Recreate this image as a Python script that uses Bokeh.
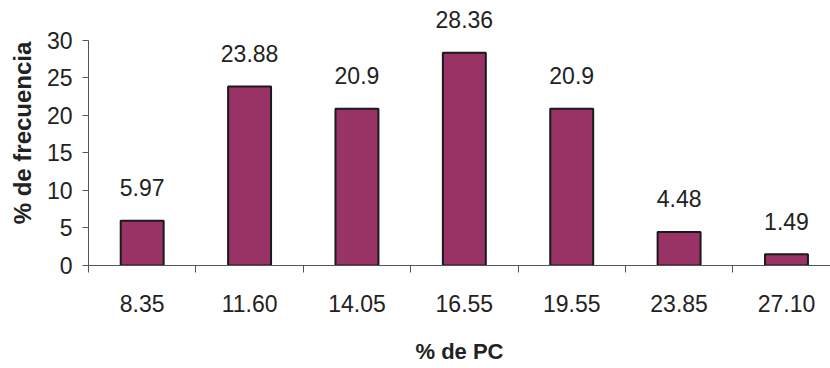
from bokeh.plotting import figure
from bokeh.models import Range1d, FixedTicker, ColumnDataSource
from bokeh.embed import file_html
from bokeh.resources import INLINE
from bokeh.core.properties import value

categories = ["8.35", "11.60", "14.05", "16.55", "19.55", "23.85", "27.10"]
freq = [5.97, 23.88, 20.9, 28.36, 20.9, 4.48, 1.49]
freq_labels = ["5.97", "23.88", "20.9", "28.36", "20.9", "4.48", "1.49"]
y_ticks = [0, 5, 10, 15, 20, 25, 30]

FONT = "Liberation Sans"
x_pos = [i + 0.5 for i in range(len(categories))]
src = ColumnDataSource(dict(x=x_pos, y=freq, lab=freq_labels))

p = figure(width=830, height=368, output_backend="svg", toolbar_location=None,
           x_range=Range1d(0, 6.91), y_range=Range1d(0, 35.33),
           min_border_left=88, min_border_right=0, min_border_top=0, min_border_bottom=103)
p.outline_line_color = None
p.xgrid.visible = False
p.ygrid.visible = False
p.background_fill_color = "white"
p.border_fill_color = "white"

p.vbar(x="x", top="y", width=0.4, bottom=0, source=src,
       fill_color="#993366", line_color="#1a1a1a", line_width=2)
p.text(x="x", y="y", text="lab", source=src, text_align="center", text_baseline="alphabetic",
       y_offset=-33, text_font=value(FONT), text_font_size="23px", text_color="#222222")

# x axis
xa = p.xaxis[0]
xa.ticker = FixedTicker(ticks=x_pos, minor_ticks=list(range(0, 8)))
xa.major_label_overrides = {x: c for x, c in zip(x_pos, categories)}
xa.major_tick_line_color = None
xa.minor_tick_out = 7
xa.minor_tick_in = 0
xa.minor_tick_line_color = "#555555"
xa.axis_line_color = "#555555"
xa.major_label_text_font = FONT
xa.major_label_text_font_size = "23px"
xa.major_label_text_color = "#222222"
xa.major_label_standoff = 22
xa.axis_label = "% de PC"
xa.axis_label_text_font = FONT
xa.axis_label_text_font_size = "22px"
xa.axis_label_text_font_style = "bold"
xa.axis_label_text_color = "#222222"
xa.axis_label_standoff = 24

# y axis
ya = p.yaxis[0]
ya.ticker = FixedTicker(ticks=y_ticks)
ya.bounds = (0, 30)
ya.major_tick_out = 6
ya.major_tick_in = 0
ya.minor_tick_line_color = None
ya.major_tick_line_color = "#555555"
ya.axis_line_color = "#555555"
ya.major_label_text_font = FONT
ya.major_label_text_font_size = "23px"
ya.major_label_text_color = "#222222"
ya.major_label_standoff = 10
ya.axis_label = "% de frecuencia"
ya.axis_label_text_font = FONT
ya.axis_label_text_font_size = "24px"
ya.axis_label_text_font_style = "bold"
ya.axis_label_text_color = "#222222"
ya.axis_label_standoff = 8

open("out.html", "w").write(file_html(p, INLINE))
